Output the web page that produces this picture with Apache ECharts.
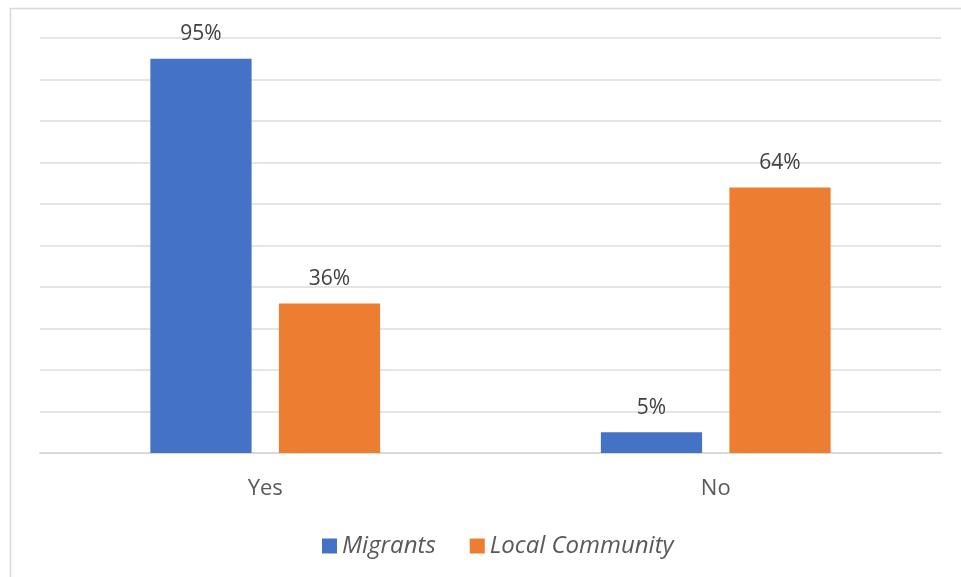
<!DOCTYPE html>
<html><head><meta charset="utf-8">
<script src="https://cdn.jsdelivr.net/npm/echarts@6/dist/echarts.min.js"></script>
<style>html,body{margin:0;padding:0;background:#fff}#c{width:961px;height:577px}</style>
</head><body><div id="c"></div>
<script>
const categories = ['Yes', 'No'];
const seriesNames = ['Migrants', 'Local Community'];
const migrants = [95, 5];
const localCommunity = [36, 64];
const colors = ['#4472C4', '#ED7D31'];

const chart = echarts.init(document.getElementById('c'));
const font = '"Open Sans", sans-serif';
const labelCfg = {show: true, position: 'top', distance: 14, formatter: '{c}%', color: '#404040', fontSize: 21, fontFamily: font};
chart.setOption({
  animation: false,
  graphic: [{type: 'rect', shape: {x: 10.5, y: 8.5, width: 1000, height: 1000}, style: {fill: 'none', stroke: '#d9d9d9', lineWidth: 1.5}, silent: true}],
  grid: {left: 40, right: 20, top: 38, bottom: 124},
  legend: {
    bottom: 14, left: 317, itemWidth: 15, itemHeight: 15, itemGap: 34,
    icon: 'rect',
    textStyle: {fontStyle: 'italic', fontSize: 24, color: '#595959', fontFamily: font},
    data: seriesNames
  },
  xAxis: {
    type: 'category', data: categories,
    axisLine: {lineStyle: {color: '#d9d9d9', width: 2}},
    axisTick: {show: false},
    axisLabel: {fontSize: 22, color: '#595959', margin: 25, fontFamily: font}
  },
  yAxis: {
    type: 'value', min: 0, max: 100, interval: 10,
    axisLabel: {show: false},
    axisLine: {show: false}, axisTick: {show: false},
    splitLine: {lineStyle: {color: '#dcdcdc', width: 1.5}}
  },
  series: [
    {name: seriesNames[0], type: 'bar', data: migrants, itemStyle: {color: colors[0]}, barGap: '27%', barCategoryGap: '49%', label: labelCfg},
    {name: seriesNames[1], type: 'bar', data: localCommunity, itemStyle: {color: colors[1]}, label: labelCfg}
  ]
});
</script></body></html>
